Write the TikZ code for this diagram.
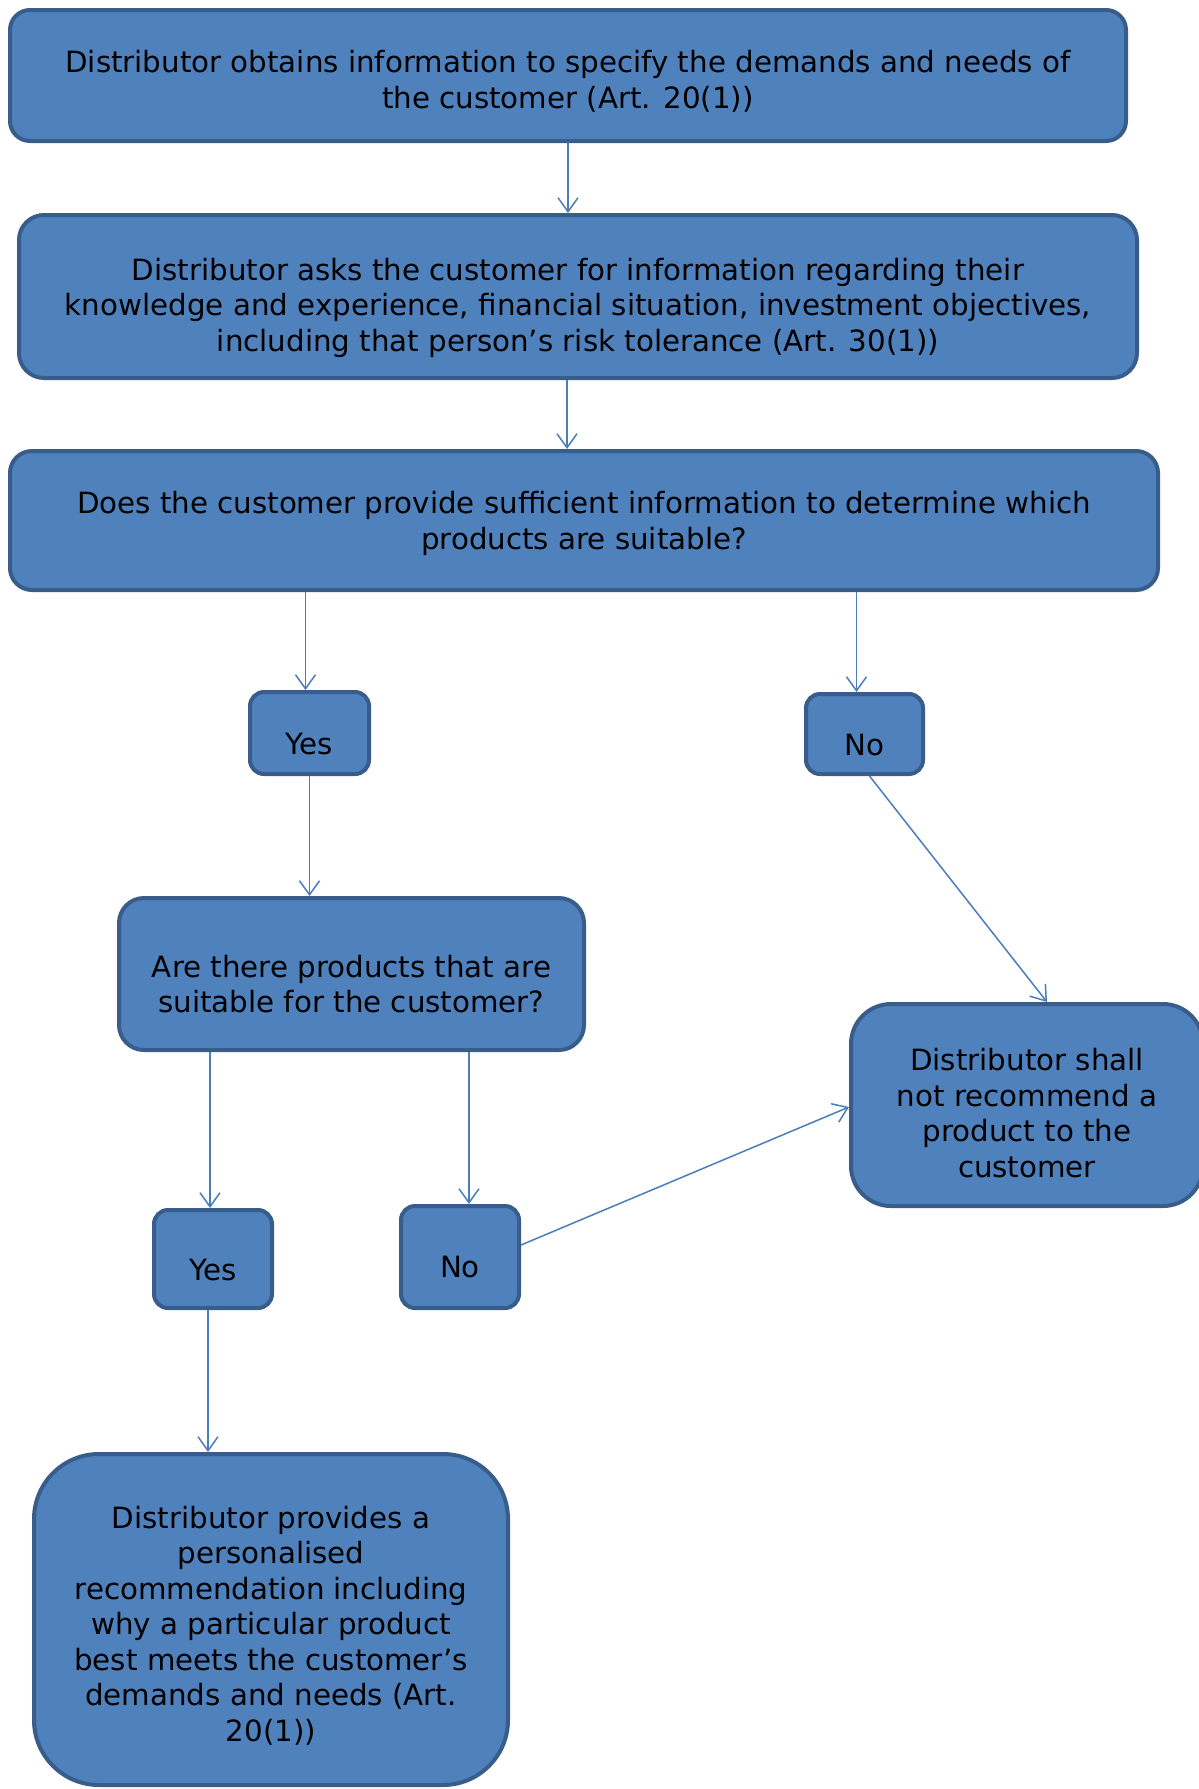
\documentclass[tikz,border=0pt]{standalone}
\usepackage{fontspec}
\setmainfont{DejaVu Sans}
\usetikzlibrary{arrows.meta}
\definecolor{boxfill}{HTML}{4F81BD}
\definecolor{boxline}{HTML}{385D8A}
\definecolor{arrowcol}{HTML}{4A7EBB}
\tikzset{
  box/.style={draw=boxline, fill=boxfill, line width=4pt, inner sep=0pt},
  lbl/.style={align=center, text=black, inner sep=0pt,
    font=\fontsize{29.3}{35.5}\selectfont},
  conn/.style={draw=arrowcol, line width=1.5pt,
    -{Straight Barb[length=14pt,width=20pt,line width=1.5pt]}}
}
\begin{document}
\begin{tikzpicture}[x=1pt,y=-1pt]
\useasboundingbox (0,0) rectangle (1199,1789);
\clip (0,0) rectangle (1199,1789);
\node[box, rounded corners=20pt, minimum width=1116pt, minimum height=131pt,
  label={[lbl, name=t1, yshift=-6pt]center:{Distributor obtains information to specify the demands and needs of\\the customer (Art. 20(1))}}] (b1) at (568,75.5) {};
\node[box, rounded corners=25pt, minimum width=1118pt, minimum height=163pt,
  label={[lbl, name=t2, yshift=-11pt]center:{Distributor asks the customer for information regarding their\\knowledge and experience, financial situation, investment objectives,\\including that person’s risk tolerance (Art. 30(1))}}] (b2) at (578,296.5) {};
\node[box, rounded corners=22pt, minimum width=1148pt, minimum height=139pt,
  label={[lbl, name=t3, yshift=-3pt]center:{Does the customer provide sufficient information to determine which\\products are suitable?}}] (b3) at (584,520.5) {};
\node[box, rounded corners=14pt, minimum width=119pt, minimum height=82pt,
  label={[lbl, name=ty1, yshift=-11pt]center:{Yes}}] (y1) at (309.5,733) {};
\node[box, rounded corners=14pt, minimum width=117pt, minimum height=80pt,
  label={[lbl, name=tn1, yshift=-11pt]center:{No}}] (n1) at (864.5,734) {};
\node[box, rounded corners=25pt, minimum width=465pt, minimum height=152pt,
  label={[lbl, name=t4, yshift=-10pt]center:{Are there products that are\\suitable for the customer?}}] (b4) at (351.5,974) {};
\node[box, rounded corners=40pt, minimum width=352pt, minimum height=202pt,
  label={[lbl, name=t5, yshift=-8pt]center:{Distributor shall\\not recommend a\\product to the\\customer}}] (b5) at (1027,1105) {};
\node[box, rounded corners=14pt, minimum width=118pt, minimum height=98pt,
  label={[lbl, name=ty2, yshift=-11pt]center:{Yes}}] (y2) at (213,1259) {};
\node[box, rounded corners=14pt, minimum width=118pt, minimum height=102pt,
  label={[lbl, name=tn2, yshift=-10pt]center:{No}}] (n2) at (460,1257) {};
\node[box, rounded corners=65pt, minimum width=474pt, minimum height=331pt,
  label={[lbl, name=t6, yshift=-6pt]center:{Distributor provides a\\personalised\\recommendation including\\why a particular product\\best meets the customer’s\\demands and needs (Art.\\20(1))}}] (b6) at (271,1619.5) {};
\draw[conn] (b1.south) -- (b1.south |- b2.north);
\draw[conn] ([xshift=-11pt]b2.south) -- ([xshift=-11pt]b2.south |- b3.north);
\draw[conn] ([xshift=-4pt]y1.north |- b3.south) -- ([xshift=-4pt]y1.north);
\draw[conn] ([xshift=-8pt]n1.north |- b3.south) -- ([xshift=-8pt]n1.north);
\draw[conn] (y1.south) -- (y1.south |- b4.north);
\draw[conn] ([xshift=5pt]n1.south) -- ([xshift=20pt]b5.north);
\draw[conn] ([xshift=-3pt]y2.north |- b4.south) -- ([xshift=-3pt]y2.north);
\draw[conn] ([xshift=9pt]n2.north |- b4.south) -- ([xshift=9pt]n2.north);
\draw[conn] ([yshift=12pt]n2.east) -- ([yshift=-2pt]b5.west);
\draw[conn] ([xshift=-5pt]y2.south) -- ([xshift=-5pt]y2.south |- b6.north);
\end{tikzpicture}
\end{document}
